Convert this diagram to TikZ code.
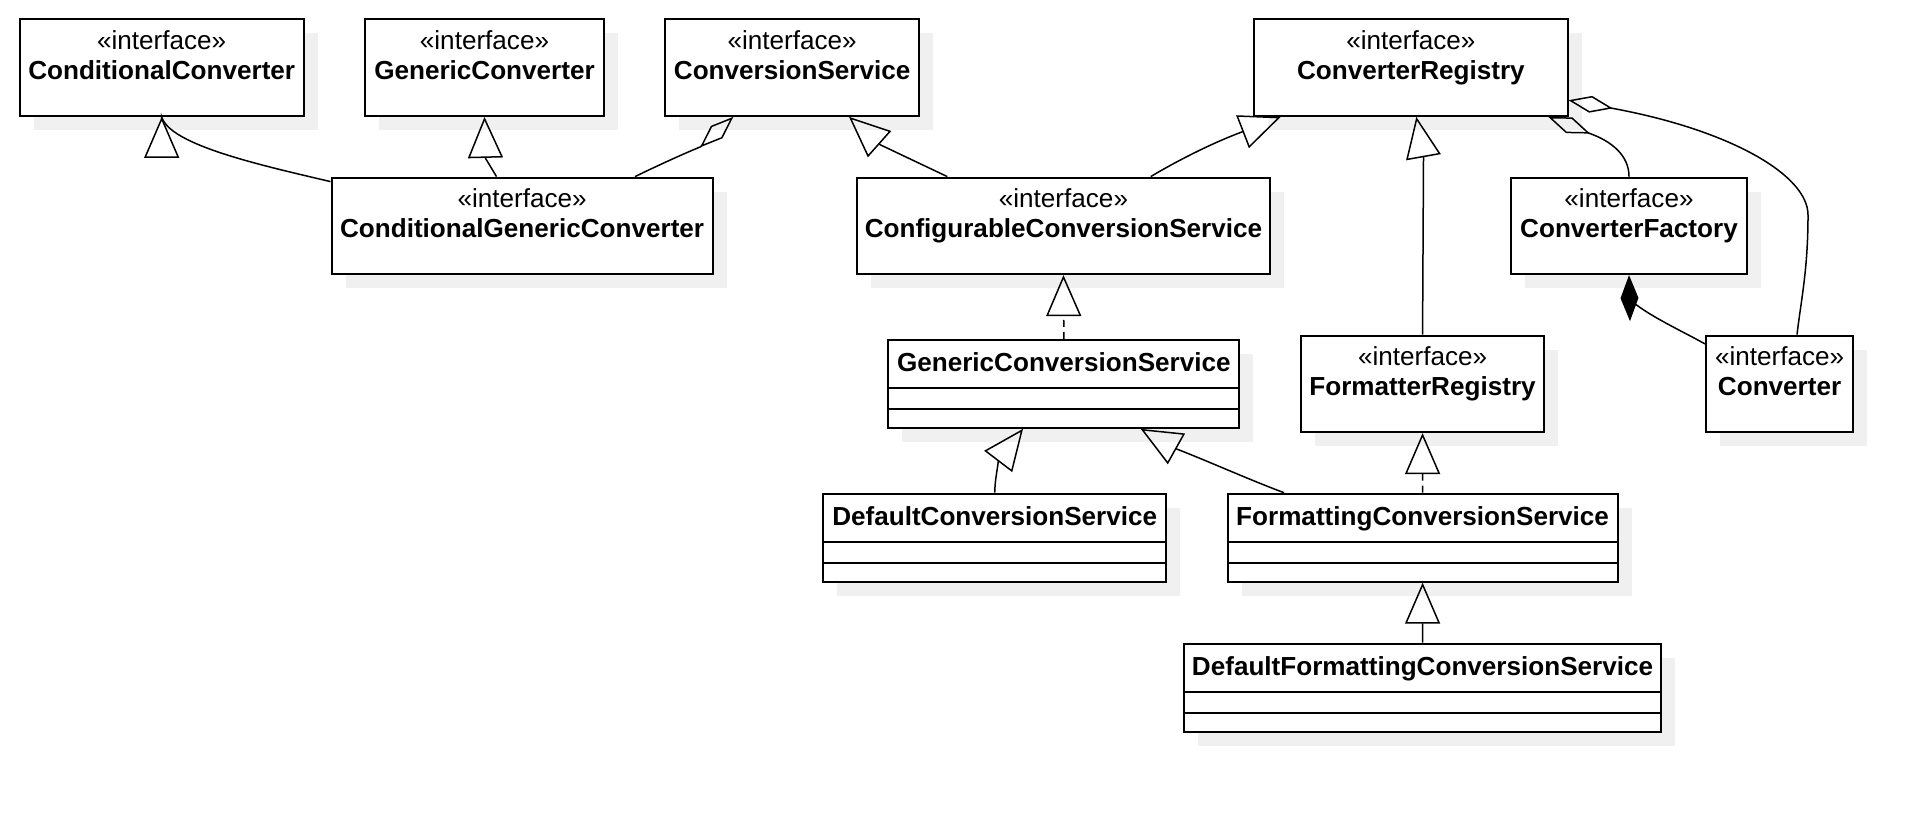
\documentclass[tikz,border=0pt]{standalone}
\usepackage{fontspec}
\setmainfont{Liberation Sans}
\usetikzlibrary{arrows.meta,shadows}

\begin{document}
\begin{tikzpicture}[x=1pt, y=-1pt,
        every node/.style={font=\fontsize{26.1pt}{30pt}\selectfont, inner sep=0pt},
        iface/.style={draw, line width=2pt, fill=white, minimum height=96.5pt,
            general shadow={fill=black!6, shadow xshift=14pt, shadow yshift=-14pt}},
        cls/.style={iface, minimum height=88pt},
        stereo/.style={anchor=base},
        cname/.style={anchor=base, font=\fontsize{26.1pt}{30pt}\selectfont\bfseries},
        divider/.style={line width=2pt},
        conn/.style={line width=1.5pt},
        gen/.style={conn, -{Triangle[open, length=41pt, width=35pt]}},
        genw/.style={conn, -{Triangle[open, fill=white, length=41pt, width=35pt]}},
        real/.style={gen, dash pattern=on 7pt off 5pt},
        agg/.style={conn, -{Diamond[open, length=45pt, width=17pt]}},
        comp/.style={conn, -{Diamond[length=46pt, width=18pt]}}
    ]
    \useasboundingbox (0,0) rectangle (1932,812);

    % interfaces
    \node[iface, minimum width=284pt]   (cc)  at (161.7,67.65)    {};
    \node[iface, minimum width=238.4pt] (gc)  at (484.5,67.65)    {};
    \node[iface, minimum width=254.3pt] (cs)  at (792.15,67.65)   {};
    \node[iface, minimum width=313.2pt] (cr)  at (1410.9,67.65)   {};
    \node[iface, minimum width=381.2pt] (cgc) at (522.1,225.85)   {};
    \node[iface, minimum width=413.9pt] (cfg) at (1063.45,225.85) {};
    \node[iface, minimum width=235.4pt] (cf)  at (1629,225.85)    {};
    \node[iface, minimum width=243.7pt] (fr)  at (1422.55,383.85) {};
    \node[iface, minimum width=147.2pt] (cv)  at (1779.6,383.85)  {};

    % classes
    \node[cls, minimum width=350.9pt] (gcs)  at (1063.85,383.85) {};
    \node[cls, minimum width=342.6pt] (dcs)  at (994.7,537.7)    {};
    \node[cls, minimum width=390pt]   (fcs)  at (1422.6,537.7)   {};
    \node[cls, minimum width=477.5pt] (dfcs) at (1422.55,687.7)  {};

    \foreach \n/\t in {cc/ConditionalConverter, gc/GenericConverter,
            cs/ConversionService, cr/ConverterRegistry,
            cgc/ConditionalGenericConverter, cfg/ConfigurableConversionService,
            cf/ConverterFactory, fr/FormatterRegistry, cv/Converter} {
        \node[stereo] (\n-s) at ([yshift=-30.7pt]\n.north) {«interface»};
        \node[cname]  (\n-n) at ([yshift=-60.7pt]\n.north) {\t};
    }
    \foreach \n/\t in {gcs/GenericConversionService, dcs/DefaultConversionService,
            fcs/FormattingConversionService, dfcs/DefaultFormattingConversionService} {
        \node[cname] (\n-n) at ([yshift=-32.5pt]\n.north) {\t};
        \draw[divider] ([yshift=-49.5pt]\n.north west) -- ([yshift=-49.5pt]\n.north east);
        \draw[divider] ([yshift=-70pt]\n.north west) -- ([yshift=-70pt]\n.north east);
    }

    % generalization
    \draw[genw] ([yshift=-5pt]cgc.north west) .. controls (260,165) and (170,145) .. (cc.south) -- ++(0,41) -- (cc.south);
    \draw[gen] ([xshift=166pt]cgc.north west) -- (485.5,158.3) -- (gc.south);
    \draw[gen] ([xshift=91.8pt]cfg.north west) -- (880.3,144.8) -- ([xshift=185pt]cs.south west);
    \draw[gen] ([xshift=295.2pt]cfg.north west) .. controls (1182,158) and (1215,142) .. (1242,131.9) -- ([xshift=27.4pt]cr.south west);
    \draw[gen] (fr.north) -- (1423.5,157.5) -- ([xshift=163pt]cr.south west);
    \draw[gen] (dcs.north) .. controls (995,480) and (997,472) .. (998.3,461.3) -- ([xshift=135.6pt]gcs.south west);
    \draw[gen] ([xshift=57.4pt]fcs.north west) .. controls (1250,480) and (1210,462) .. (1176.7,449) -- ([xshift=253.3pt]gcs.south west);
    \draw[gen] (dfcs.north) -- (fcs.south);

    % realization
    \draw[real] (gcs.north) -- (cfg.south);
    \draw[real] (fcs.north) -- (fr.south);

    % aggregation, composition
    \draw[agg] ([xshift=304.5pt]cgc.north west) .. controls (665,162) and (688,152) .. (700.7,146.7) -- ([xshift=69.3pt]cs.south west);
    \draw[agg] (cf.north) .. controls (1629,155) and (1611,141) .. (1589.3,133.3) -- ([xshift=-20.2pt]cr.south east);
    \draw[agg] ([xshift=92pt]cv.north west) .. controls (1801,300) and (1808,270) .. (1808,215)
        .. controls (1808,175) and (1730,130) .. (1612.3,108.3) -- ([yshift=16.7pt]cr.south east);
    \draw[comp] ([yshift=-9.3pt]cv.north west) .. controls (1680,330) and (1645,314) .. (1629.5,299) -- (cf.south);
\end{tikzpicture}
\end{document}
